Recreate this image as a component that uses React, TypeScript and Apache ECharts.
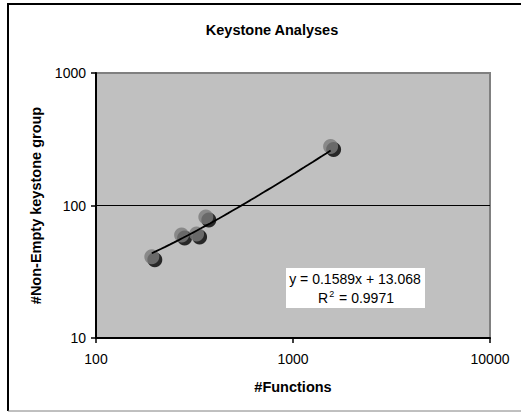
import React, { useEffect, useRef } from "react";
import * as echarts from "echarts";

const functionsCount = [192, 272, 324, 361, 1552];
const nonEmptyGroups = [41, 60, 61, 82, 279];
const slope = 0.1589;
const intercept = 13.068;
const rSquared = 0.9971;
const xTicks = [100, 1000, 10000];
const yTicks = [10, 100, 1000];

const FONT = "'Liberation Sans', Arial, sans-serif";

export default function App() {
  const ref = useRef<HTMLDivElement>(null);
  useEffect(() => {
    if (!ref.current) return;
    const chart = echarts.init(ref.current, undefined, { renderer: "svg" });
    const pts = functionsCount.map((x, i) => [x, nonEmptyGroups[i]]);
    const xMin = Math.min(...functionsCount);
    const xMax = Math.max(...functionsCount);
    const trend: number[][] = [];
    const n = 40;
    for (let i = 0; i <= n; i++) {
      const x = xMin * Math.pow(xMax / xMin, i / n);
      trend.push([x, slope * x + intercept]);
    }
    const plain = (v: number) => String(Math.round(v));
    chart.setOption({
      animation: false,
      backgroundColor: "#ffffff",
      title: {
        text: "Keystone Analyses",
        left: 267,
        textAlign: "center",
        top: 17,
        textStyle: { fontFamily: FONT, fontSize: 14.5, fontWeight: "bold", color: "#000" },
      },
      grid: {
        left: 96,
        right: 31,
        top: 73,
        bottom: 74,
        show: true,
        backgroundColor: "#C0C0C0",
        borderColor: "#808080",
        borderWidth: 2,
      },
      xAxis: {
        type: "log",
        logBase: 10,
        min: xTicks[0],
        max: xTicks[xTicks.length - 1],
        name: "#Functions",
        nameLocation: "middle",
        nameGap: 41,
        nameTextStyle: { fontFamily: FONT, fontSize: 14.5, fontWeight: "bold", color: "#000" },
        axisLine: { show: true, lineStyle: { color: "#000", width: 2 } },
        axisTick: { show: true, length: 5, lineStyle: { color: "#000", width: 1.5 } },
        axisLabel: { fontFamily: FONT, fontSize: 14, color: "#000", margin: 14, formatter: plain },
        splitLine: { show: false },
        minorTick: { show: false },
      },
      yAxis: {
        type: "log",
        logBase: 10,
        min: yTicks[0],
        max: yTicks[yTicks.length - 1],
        name: "#Non-Empty keystone group",
        nameLocation: "middle",
        nameGap: 52,
        nameTextStyle: { fontFamily: FONT, fontSize: 14.5, fontWeight: "bold", color: "#000" },
        axisLine: { show: true, lineStyle: { color: "#000", width: 2 } },
        axisTick: { show: true, length: 5, lineStyle: { color: "#000", width: 1.5 } },
        axisLabel: { fontFamily: FONT, fontSize: 14, color: "#000", margin: 10, formatter: plain },
        splitLine: { show: false },
      },
      series: [
        {
          type: "scatter",
          data: pts,
          symbol: "circle",
          symbolSize: 15,
          symbolOffset: [3, 3],
          itemStyle: { color: "#000" },
          z: 2,
          markLine: {
            silent: true,
            symbol: "none",
            label: { show: false },
            lineStyle: { color: "#000", width: 1, type: "solid" },
            data: [{ yAxis: yTicks[1] }],
          },
        },
        {
          type: "scatter",
          data: pts,
          symbol: "circle",
          symbolSize: 15,
          itemStyle: { color: "#7a7a7a" },
          z: 3,
        },
        {
          type: "line",
          data: trend,
          showSymbol: false,
          symbol: "none",
          lineStyle: { color: "#000", width: 1.8 },
          z: 4,
        },
      ],
      graphic: [
        {
          type: "rect",
          shape: { x: 286, y: 268, width: 139, height: 40 },
          style: { fill: "#ffffff" },
          z: 10,
        },
        {
          type: "text",
          x: 355,
          y: 279,
          style: {
            text: `y = ${slope}x + ${intercept.toFixed(3)}`,
            font: `14px ${FONT}`,
            fill: "#000",
            textAlign: "center",
            textVerticalAlign: "middle",
          },
          z: 11,
        },
        {
          type: "text",
          x: 356,
          y: 297,
          style: {
            text: `{r|R}{s|2}{r| = ${rSquared}}`,
            font: `14px ${FONT}`,
            fill: "#000",
            textAlign: "center",
            textVerticalAlign: "middle",
            rich: {
              r: { fontFamily: FONT, fontSize: 14, fill: "#000", verticalAlign: "bottom", lineHeight: 16 },
              s: { fontFamily: FONT, fontSize: 9, fill: "#000", verticalAlign: "top", lineHeight: 16, padding: [0, 1, 7, 1] },
            },
          },
          z: 11,
        },
        { type: "line", shape: { x1: 7, y1: 4, x2: 521, y2: 4 }, style: { stroke: "#000", lineWidth: 2 }, z: 20 },
        { type: "line", shape: { x1: 8, y1: 4, x2: 8, y2: 411 }, style: { stroke: "#000", lineWidth: 2 }, z: 20 },
        { type: "line", shape: { x1: 8, y1: 411, x2: 521, y2: 411 }, style: { stroke: "#808080", lineWidth: 1 }, z: 20 },
      ],
    });
    return () => chart.dispose();
  }, []);
  return <div ref={ref} style={{ width: 521, height: 412, position: "absolute", left: 0, top: 0 }} />;
}
